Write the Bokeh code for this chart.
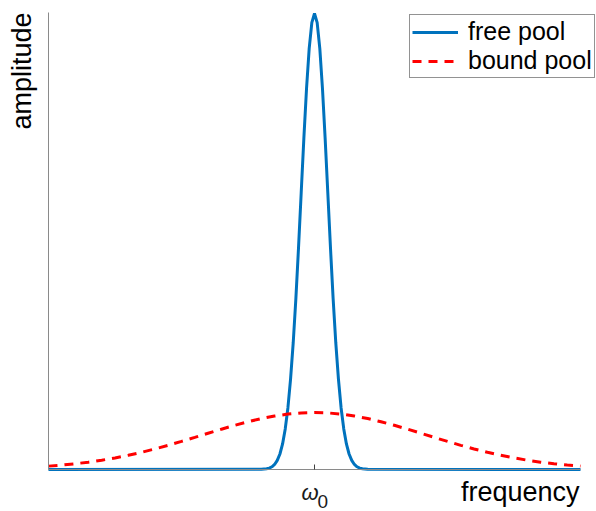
from bokeh.plotting import figure
from bokeh.models import Range1d, FixedTicker, Label, LinearAxis
from bokeh.embed import file_html
from bokeh.resources import INLINE
import math

# ---- data (frequency offset from omega_0, arbitrary units) ----
free_x = [-1.0, -0.20, -0.18, -0.17, -0.16, -0.15, -0.14, -0.13, -0.12, -0.11, -0.10,
          -0.09, -0.08, -0.07, -0.06, -0.05, -0.04, -0.03, -0.02, -0.01, 0.0,
          0.01, 0.02, 0.03, 0.04, 0.05, 0.06, 0.07, 0.08, 0.09, 0.10,
          0.11, 0.12, 0.13, 0.14, 0.15, 0.16, 0.17, 0.18, 0.20, 1.0]
free_y = [0.0, 0.0003, 0.0015, 0.003, 0.006, 0.011, 0.020, 0.034, 0.056, 0.089, 0.135,
          0.198, 0.278, 0.375, 0.487, 0.607, 0.726, 0.835, 0.923, 0.980, 1.0,
          0.980, 0.923, 0.835, 0.726, 0.607, 0.487, 0.375, 0.278, 0.198, 0.135,
          0.089, 0.056, 0.034, 0.020, 0.011, 0.006, 0.003, 0.0015, 0.0003, 0.0]

bound_x = [-1.0, -0.95, -0.9, -0.85, -0.8, -0.75, -0.7, -0.65, -0.6, -0.55, -0.5,
           -0.45, -0.4, -0.35, -0.3, -0.25, -0.2, -0.15, -0.1, -0.05, 0.0,
           0.05, 0.1, 0.15, 0.2, 0.25, 0.3, 0.35, 0.4, 0.45, 0.5,
           0.55, 0.6, 0.65, 0.7, 0.75, 0.8, 0.85, 0.9, 0.95, 1.0]
bound_y = [0.0074, 0.0097, 0.0126, 0.0161, 0.0204, 0.0254, 0.0312, 0.0378, 0.0451, 0.0530, 0.0616,
           0.0704, 0.0795, 0.0884, 0.0969, 0.1047, 0.1117, 0.1173, 0.1215, 0.1241, 0.125,
           0.1241, 0.1215, 0.1173, 0.1117, 0.1047, 0.0969, 0.0884, 0.0795, 0.0704, 0.0616,
           0.0530, 0.0451, 0.0378, 0.0312, 0.0254, 0.0204, 0.0161, 0.0126, 0.0097, 0.0074]

series_names = ["free pool", "bound pool"]
x_ticks = [0.0]
x_tick_symbol = "ω"
x_tick_sub = "0"
x_label = "frequency"
y_label = "amplitude"
x_lim = (-1.0, 1.0)
y_top = 1.0022

FONT = "Liberation Sans"
TXT = "#1a1a1a"

W, H = 596, 511
# pixel layout of the axes box in the reference
L_PX, R_PX, B_PX = 48, 580, 469
XS = (R_PX - L_PX) / (x_lim[1] - x_lim[0])   # px per x unit
YS = 456.0                                    # px per y unit


def dx(px):
    return x_lim[0] + (px - L_PX) / XS


def dy(px):
    return (B_PX - px) / YS


p = figure(width=W, height=H, output_backend="svg", toolbar_location=None,
           x_range=Range1d(dx(0), dx(W)), y_range=Range1d(dy(H), dy(0)),
           x_axis_type=None, y_axis_type=None,
           min_border=0, min_border_left=0, min_border_right=0,
           min_border_top=0, min_border_bottom=0,
           background_fill_color="white", border_fill_color="white")
p.outline_line_color = None
p.grid.visible = False

xaxis = LinearAxis(fixed_location=0.0, bounds=x_lim, ticker=FixedTicker(ticks=x_ticks),
                   major_label_overrides={0: ""}, major_tick_in=5, major_tick_out=0,
                   major_tick_line_color="#404040", minor_tick_line_color=None,
                   axis_line_color="#8a8a8a", axis_line_width=1)
yaxis = LinearAxis(fixed_location=x_lim[0], bounds=(0.0, y_top), ticker=FixedTicker(ticks=[]),
                   major_tick_line_color=None, minor_tick_line_color=None,
                   major_label_text_font_size="0px",
                   axis_line_color="#8a8a8a", axis_line_width=1)
p.add_layout(xaxis, "below")
p.add_layout(yaxis, "left")

p.line(free_x, free_y, line_color="#0072bd", line_width=3, legend_label=series_names[0])
p.line(bound_x, bound_y, line_color="#ff0000", line_width=3, line_dash="9 7",
       legend_label=series_names[1])

lg = p.legend[0]
lg.location = (409, 433)
lg.border_line_color = "#262626"
lg.border_line_width = 1
lg.background_fill_color = "white"
lg.background_fill_alpha = 1.0
lg.padding = 2
lg.spacing = 0
lg.margin = 0
lg.glyph_width = 46
lg.glyph_height = 20
lg.label_height = 20
lg.label_standoff = 10
lg.label_text_font = FONT
lg.label_text_font_size = "25px"
lg.label_text_color = "#000000"

p.add_layout(Label(x=dx(309.5), y=dy(492), text=x_tick_symbol, text_font=FONT,
                   text_font_style="italic", text_font_size="22px", text_color=TXT,
                   text_align="center", text_baseline="alphabetic"))
p.add_layout(Label(x=dx(317), y=dy(501), text=x_tick_sub, text_font=FONT,
                   text_font_size="19px", text_color=TXT,
                   text_align="left", text_baseline="alphabetic"))
p.add_layout(Label(x=dx(579), y=dy(491), text=x_label, text_font=FONT,
                   text_font_size="27px", text_color="#000000",
                   text_align="right", text_baseline="alphabetic"))
p.add_layout(Label(x=dx(21), y=dy(12), text=y_label, text_font=FONT,
                   text_font_size="27px", text_color="#000000", angle=math.pi / 2,
                   text_align="right", text_baseline="alphabetic"))

open("out.html", "w").write(file_html(p, INLINE))
